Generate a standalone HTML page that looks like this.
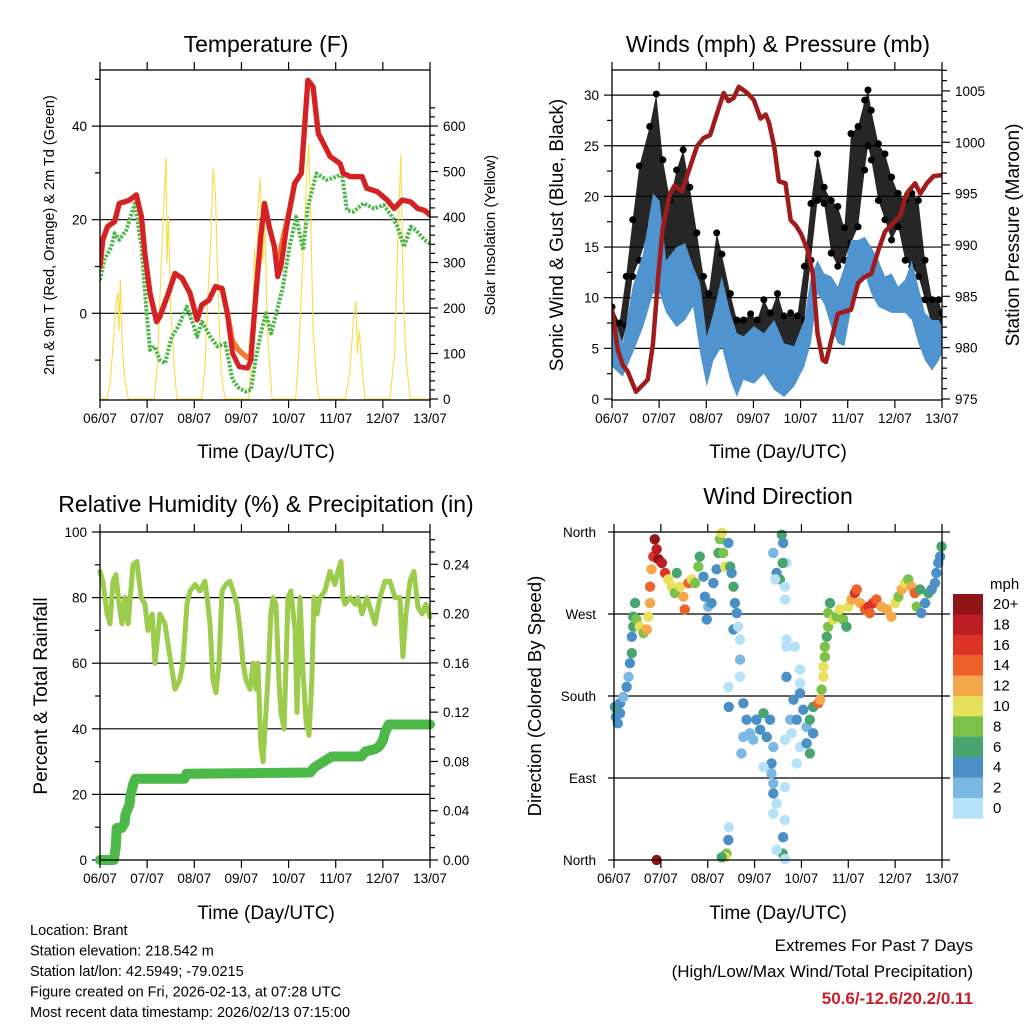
<!DOCTYPE html>
<html><head><meta charset="utf-8"><style>
html,body{margin:0;padding:0;background:#fff;}
svg{display:block;font-family:"Liberation Sans",Arial,sans-serif;}
</style></head><body>
<svg id="fig" width="1024" height="1024" viewBox="0 0 1024 1024">
<rect x="0" y="0" width="1024" height="1024" fill="#fff"/>
</svg>
<script>
// ---------------- DATA ----------------
const tempTime=[0,.06,.16,.31,.41,.52,.63,.77,.88,.95,1.06,1.2,1.27,1.45,1.59,1.74,1.91,2.06,2.16,2.31,2.45,2.59,2.7,2.81,2.95,3.13,3.2,3.31,3.41,3.49,3.59,3.7,3.77,3.84,3.95,4.02,4.13,4.27,4.41,4.52,4.63,4.74,4.88,5.09,5.16,5.31,5.56,5.66,5.88,6.09,6.24,6.41,6.59,6.74,6.88,7];
const temp2m=[10,15.7,18.5,19.6,23.5,23.8,24.2,25.3,20.6,12.8,4.3,-1.8,-0.7,4.3,8.5,7.5,4.3,-1.4,1.8,2.8,5.7,5.3,0,-8.5,-11.4,-11.7,-10,4.3,16.4,23.5,18.5,14.2,7.8,10,17.8,22,27.8,29.9,49.8,48.4,38.4,36.3,33.5,32,29.9,29.2,29.2,26.7,26,24.2,22.4,24.2,23.8,22.4,22,21];
const temp9m=[10,15.7,18.5,19.6,23.5,23.8,24.2,25.3,20.6,12.8,4.3,-1.8,-0.7,4.3,8.5,7.5,4.3,-1.4,1.8,2.8,5.7,5.3,0,-6,-8,-9.5,-9,4.3,16.4,23.5,18.5,14.2,9,14,19,22,27.8,29.9,49.8,48.4,38.4,36.3,33.5,32,29.9,29.2,29.2,26.7,26,24.2,22.4,24.2,23.8,22.4,22,21];
const dewTime=[0,.09,.24,.31,.41,.56,.74,.88,.99,1.06,1.16,1.27,1.38,1.52,1.66,1.84,1.99,2.06,2.16,2.34,2.49,2.66,2.81,2.95,3.09,3.2,3.31,3.41,3.52,3.63,3.74,3.88,4.02,4.16,4.31,4.41,4.59,4.81,5.02,5.13,5.24,5.38,5.59,5.81,6.02,6.2,6.31,6.45,6.59,6.7,6.88,7];
const dewPoint=[7.1,11.4,14.2,17.1,15.7,17.8,23.5,14.2,0,-7.8,-7.1,-10,-10.7,-5,-2.8,1.4,-2.8,-5,-1.8,-5,-7.1,-6.4,-14.2,-16,-16.7,-16.4,-9.3,-4.3,0,-4.3,0,5.7,14.2,20.6,13.5,22.8,29.9,28.5,29.2,29.9,22,21.7,23.5,22.4,23.1,20.6,18.5,14.2,18.5,17.8,15.7,14.9];
const solarTime=[0,.15,.22,.3,.35,.38,.4,.43,.47,.52,.6,1.15,1.22,1.3,1.35,1.4,1.42,1.45,1.5,1.57,1.63,2.15,2.22,2.3,2.35,2.4,2.45,2.5,2.57,2.65,3.15,3.22,3.28,3.32,3.35,3.4,3.45,3.5,3.55,3.65,4.15,4.22,4.3,4.38,4.43,4.47,4.52,4.6,4.65,5.2,5.3,5.38,5.43,5.46,5.5,5.55,5.62,6.15,6.25,6.32,6.38,6.42,6.45,6.5,6.58,7];
const solarWm2=[0,0,40,150,220,233,150,262,120,50,0,0,80,300,420,531,300,400,200,80,0,0,60,250,350,505,450,250,60,0,0,100,330,200,420,485,300,380,150,0,0,100,300,480,560,400,150,30,0,0,60,180,216,100,150,80,0,0,100,350,537,300,180,80,0,0];
const windTime=[0,.23,.44,.66,.87,1.01,1.15,1.37,1.55,1.72,1.87,2.01,2.15,2.33,2.51,2.65,2.79,3.01,3.22,3.44,3.65,3.86,4.08,4.22,4.36,4.5,4.65,4.79,4.93,5.07,5.22,5.36,5.5,5.65,5.79,5.93,6.07,6.22,6.36,6.5,6.64,6.79,6.93,7];
const windLow=[3.2,2.2,4.5,7.1,10.4,10.4,8.5,7.1,7.8,9.1,4.5,1.2,3.8,5.2,1.9,0.2,1.9,1.5,2.5,0.9,0.2,1.2,3.2,5.5,10.4,9.4,7.1,5.5,5.2,8.8,11.1,12.4,10.4,9.1,8.8,8.5,8.5,8.5,7.8,5.5,3.8,2.8,3.8,4.5];
const windHigh=[8.5,5.5,11.1,14.4,20.3,19.6,13.7,15,15.4,13.1,11.4,6.2,8.5,12.1,8.5,6.5,6.2,7.2,6.5,7.8,5.5,5.2,7.8,12.1,13.7,12.4,12.1,11.1,13.1,15.7,15.7,16,15,13.7,12.1,12.4,11.1,11.8,13.7,11.1,8.5,7.8,7.8,7.2];
const gustTime=[0,.16,.3,.44,.58,.8,.94,1.08,1.23,1.37,1.51,1.65,1.8,1.94,2.05,2.22,2.33,2.51,2.65,2.79,2.94,3.08,3.22,3.36,3.51,3.65,3.79,3.93,4.08,4.22,4.36,4.5,4.65,4.79,4.93,5.07,5.22,5.36,5.43,5.5,5.65,5.79,5.93,6.07,6.22,6.36,6.5,6.64,6.79,6.93,7];
const gustLow=[3.8,4.5,7.2,12.1,13.7,17,19.6,13.7,13.7,14.4,15,13.1,10.4,6.2,4.5,7.8,8.8,5.5,4.5,4.5,4.8,5.5,4.5,4.5,2.5,2.8,3.8,3.8,7.8,13.7,19.6,19.3,14.4,13.1,13.7,15.4,17,22.6,25,23.6,19.6,17.7,15.7,17,13.7,13.1,12.1,9.8,7.2,6.2,5.5];
const gustHigh=[9.1,7.5,12.1,17.7,23,26.9,30.1,23.6,19.6,22.6,24.6,20.9,16.4,12.1,10.4,16.4,14.3,10.4,7.8,7.8,8.4,7.8,9.8,8.5,10.4,8.2,8.5,8.2,13.1,19.3,24.2,20.9,19.6,19,16.9,26.2,26.9,29.5,30.5,28.5,25.2,24.2,21.9,20.3,19.6,20.3,19.6,13.7,9.8,9.8,8.5];
const presTime=[0,.12,.23,.33,.51,.66,.76,.87,.98,1.08,1.23,1.33,1.48,1.62,1.8,1.94,2.08,2.22,2.37,2.47,2.58,2.69,2.87,3.01,3.15,3.26,3.33,3.44,3.54,3.68,3.79,3.9,4.01,4.15,4.26,4.36,4.47,4.54,4.65,4.79,4.93,5.07,5.22,5.36,5.5,5.65,5.79,6.0,6.11,6.25,6.43,6.54,6.68,6.82,7];
const pressure=[983.7,979.8,978.3,977.7,975.7,976.4,976.9,980.4,986.9,991.8,995,995.8,995.2,997.1,999.6,1000.4,1000.7,1002.7,1004.8,1004,1004.3,1005.4,1004.8,1004.1,1002.3,1002.7,1001.9,999.6,996.2,996,992.4,991.9,991.1,989.5,987.2,981.4,978.8,978.6,980.7,983.3,983.5,983.7,986.3,986.9,987.2,989.5,991.3,992.3,992.8,995,996,995,996,996.7,996.8];
const rhTime=[0,1.5,3.6,5.1,6.6,8.1,9.7,11.2,12.7,14.3,16.8,18.8,20.9,22.9,24.4,26.5,28,30.5,33.1,35.6,38.2,40.7,42.2,44.3,45.8,48.4,50.9,53.4,54.5,56,57.5,59,60.6,62.1,64.1,66.2,67.7,69.7,71.3,72.8,74.3,76.4,77.9,79.4,80.4,81.9,83,84,85.5,87,88.1,89.6,91.1,92.1,93.7,95.7,97.2,99.3,100.3,101.8,103.3,104.9,106.4,107.9,108.9,110.5,112,114.5,117.1,119.6,121.1,122.7,123.7,124.7,127.3,129.8,131.3,133.4,135.9,138.4,140,142.5,145.1,147.6,150.2,152.7,154.2,155.8,157.8,159.8,161.9,163.9,165.9,168];
const rhValue=[88,85,75,72,85,87,78,72,80,72,90,91,80,78,70,75,60,75,72,62,52,55,60,78,82,84,82,85,80,72,55,51,60,82,84,85,82,78,70,60,55,52,60,52,60,35,30,40,55,75,80,78,55,45,40,80,82,70,45,80,58,42,38,55,80,75,80,82,88,84,88,91,80,78,80,78,80,75,80,75,72,80,85,85,80,80,62,75,85,88,77,75,78,74];
const rainTime=[0,7,8,8.5,11,12.5,13,15,15.5,17,18,43,44,107,109,112,115,118,133,135,140,142,144,145,147,168];
const rainTotal=[0,0,.01,.026,.026,.03,.037,.045,.052,.062,.066,.066,.07,.071,.075,.078,.081,.084,.084,.088,.09,.092,.097,.103,.11,.11];
const wdTime=[.02,.06,.04,.08,.13,.13,.2,.27,.31,.34,.38,.38,.41,.41,.45,.48,.55,.63,.7,.73,.77,.77,.8,.84,.87,.91,.95,1.02,1.09,1.16,1.23,1.3,1.34,1.41,1.48,1.51,1.59,1.66,1.73,1.8,1.83,1.91,1.94,1.98,2.01,2.08,2.12,2.19,2.23,2.26,2.3,2.33,2.37,2.44,2.48,2.51,2.55,2.58,2.62,2.55,2.65,2.69,2.69,2.69,2.44,2.45,2.4,2.37,2.44,2.45,2.3,.91,2.76,2.83,2.76,2.9,3.04,3.12,3.19,3.26,3.33,3.4,2.97,2.72,3.4,3.47,3.54,3.58,3.61,3.65,3.68,3.6,3.44,3.65,3.68,3.68,3.86,3.68,3.97,3.97,3.36,3.36,3.4,3.4,3.47,3.4,3.65,3.61,3.6,3.65,3.47,3.19,3.65,3.9,3.65,3.83,3.97,3.76,3.9,4.04,4.11,4.18,4.25,3.79,3.97,4.11,4.18,4.25,4.36,4.4,4.43,4.47,4.47,4.5,4.5,4.54,4.57,4.57,4.61,4.68,4.75,4.82,4.89,4.96,5.0,5.07,5.14,5.18,5.25,5.36,5.43,5.46,5.53,5.6,5.71,5.82,5.92,6.0,6.07,6.14,6.21,6.28,6.35,6.42,6.46,6.53,6.56,6.64,6.71,6.78,6.85,6.88,6.92,6.96,6.99];
const wdDir=[168,165,157,150,161,172,179,190,201,216,227,245,256,267,282,264,256,249,253,267,282,300,319,333,352,341,330,326,315,308,300,293,315,300,289,275,304,308,304,322,333,311,289,264,278,282,304,319,337,352,359,337,322,348,322,315,300,282,271,253,256,242,220,201,190,168,7,3,22,36,3,0,172,154,135,139,154,143,161,135,154,124,132,117,337,315,308,357,348,300,326,326,308,286,242,234,234,201,209,194,106,95,84,73,62,51,44,25,7,1,11,102,132,106,80,176,183,154,154,165,146,154,139,139,124,128,117,168,172,176,187,201,212,223,234,245,256,271,282,264,267,275,264,256,278,286,293,297,282,275,278,271,282,286,278,275,267,282,289,297,304,308,300,293,278,297,271,282,293,297,304,315,326,333,344];
const wdSpeed=[4,6,4,4,4,4,3,4,2,4,6,4,6,6,6,8,10,8,12,10,12,14,12,16,20,18,20,18,16,10,10,8,6,10,12,14,14,10,8,8,6,4,4,4,2,4,4,4,6,8,10,8,10,4,6,4,6,4,4,4,0,0,2,0,0,4,8,10,4,0,6,20,4,4,2,2,4,4,6,4,4,2,2,2,2,4,6,6,4,0,0,6,0,0,0,0,0,4,0,0,4,2,2,4,0,0,0,4,6,0,0,0,0,0,0,4,4,2,4,4,2,6,4,0,0,4,6,6,14,12,8,10,10,8,8,6,8,8,6,10,8,10,8,6,10,12,16,14,12,14,16,14,16,14,12,12,12,10,8,12,10,8,12,14,8,6,4,4,6,4,4,4,4,4,6];
const dayLabels=["06/07","07/07","08/07","09/07","10/07","11/07","12/07","13/07"];
const speedBins=["20+","18","16","14","12","10","8","6","4","2","0"];
const speedColors=["#8f1519","#bb1d23","#dc3228","#ef612a","#f5a84a","#e6e05a","#7cc24a","#48a56f","#4a8fc6","#7ab8e3","#b5e2f8"];

// ---------------- HELPERS ----------------
const NS="http://www.w3.org/2000/svg";
const svg=document.getElementById("fig");
function mk(parent,tag,attrs,name){
  const el=document.createElementNS(NS,tag);
  for(const k in attrs) el.setAttribute(k,attrs[k]);
  
  
  parent.appendChild(el);
  return el;
}
function txt(parent,x,y,s,size,anchor,name,rot,extra){
  const a={x:x,y:y,"font-size":size,"text-anchor":anchor||"middle",fill:"#000"};
  if(rot) a.transform="rotate("+rot+" "+x+" "+y+")";
  if(extra) for(const k in extra) a[k]=extra[k];
  const t=mk(parent,"text",a,name);
  t.textContent=s;
  return t;
}
function ln(p,x1,y1,x2,y2,name,w){return mk(p,"line",{x1:x1,y1:y1,x2:x2,y2:y2,stroke:"#000","stroke-width":w||1.2},name);}
function poly(p,xs,ys,xf,yf,stroke,w,name,extra){
  let d="";
  for(let i=0;i<xs.length;i++) d+=(i?" ":"")+xf(xs[i]).toFixed(1)+","+yf(ys[i]).toFixed(1);
  const a={points:d,fill:"none",stroke:stroke,"stroke-width":w,"stroke-linejoin":"round","stroke-linecap":"round"};
  if(extra) for(const k in extra) a[k]=extra[k];
  return mk(p,"polyline",a,name);
}
function band(p,xs,lo,hi,xf,yf,fill,name,op){
  let d="";
  for(let i=0;i<xs.length;i++) d+=xf(xs[i]).toFixed(1)+","+yf(hi[i]).toFixed(1)+" ";
  for(let i=xs.length-1;i>=0;i--) d+=xf(xs[i]).toFixed(1)+","+yf(lo[i]).toFixed(1)+" ";
  return mk(p,"polygon",{points:d,fill:fill,"fill-opacity":op||1},name);
}
function xAxis(g,x0,x1,y0,y1,tf){
  for(let d=0;d<=7;d++){
    const x=tf(d);
    ln(g,x,y1,x,y1+8,"x-tick");
    ln(g,x,y0,x,y0-8,"x-tick-top");
    txt(g,x,y1+23,dayLabels[d],13.5,"middle","x-tick-label");
  }
}

// ---------------- PANEL 1: TEMPERATURE ----------------
(function(){
  const g=mk(svg,"g",{},"temperature-panel");
  const X0=100,X1=430,Y0=70,Y1=400;
  const tx=d=>X0+d*(X1-X0)/7;
  const ty=v=>313.3-v*4.68;
  const ys=w=>399-w*0.455;
  const clip=mk(g,"clipPath",{id:"c1"},"temp-clip");
  mk(clip,"rect",{x:X0,y:Y0,width:X1-X0,height:Y1-Y0},"temp-clip-rect");
  [0,20,40].forEach(v=>{ln(g,X0,ty(v),X1,ty(v),"temp-gridline",1.2);ln(g,X0-8,ty(v),X0,ty(v),"temp-y-tick");txt(g,X0-13,ty(v)+5,String(v),13.5,"end","temp-y-label");});
  [-10,10,30,50].forEach(v=>ln(g,X0-5,ty(v),X0,ty(v),"temp-y-minor-tick"));
  for(let w=0;w<=640;w+=20){const y=ys(w);if(y<Y0)break;ln(g,X1,y,X1+(w%100==0?8:5),y,"solar-y-tick");if(w%100==0)txt(g,X1+13,y+5,String(w),13.5,"start","solar-y-label");}
  const pg=mk(g,"g",{"clip-path":"url(#c1)"},"temp-series");
  poly(pg,solarTime,solarWm2,tx,ys,"#f8dc48",1.1,"solar-insolation-line");
  poly(pg,dewTime,dewPoint,tx,ty,"#4cb648",4,"dewpoint-2m-line",{"stroke-dasharray":"2.5 1.5","stroke-linecap":"butt"});
  poly(pg,tempTime,temp9m,tx,ty,"#f27a2d",5.5,"temp-9m-line");
  poly(pg,tempTime,temp2m,tx,ty,"#d42027",5,"temp-2m-line");
  mk(g,"rect",{x:X0,y:Y0,width:X1-X0,height:Y1-Y0,fill:"none",stroke:"#000","stroke-width":1.3},"temp-frame");
  xAxis(g,X0,X1,Y0,Y1,tx);
  txt(g,266,52,"Temperature (F)",23,"middle","temp-title");
  txt(g,266,458,"Time (Day/UTC)",19,"middle","temp-x-title");
  txt(g,54,235,"2m & 9m T (Red, Orange) & 2m Td (Green)",14.5,"middle","temp-y-title",-90);
  txt(g,495,235,"Solar Insolation (Yellow)",15,"middle","solar-y-title",-90);
})();

// ---------------- PANEL 2: WINDS ----------------
(function(){
  const g=mk(svg,"g",{},"winds-panel");
  const X0=612,X1=942,Y0=70,Y1=400;
  const wx=d=>X0+d*(X1-X0)/7;
  const wy=m=>399-m*10.13;
  const wp=p=>399-(p-975)*10.27;
  const clip=mk(g,"clipPath",{id:"c2"},"winds-clip");
  mk(clip,"rect",{x:X0,y:Y0,width:X1-X0,height:Y1-Y0},"winds-clip-rect");
  for(let v=0;v<=30;v+=2.5){const y=wy(v);if(v%5==0){if(v>0)ln(g,X0,y,X1,y,"wind-gridline",1.2);ln(g,X0-8,y,X0,y,"wind-y-tick");txt(g,X0-13,y+5,String(v),13.5,"end","wind-y-label");}else ln(g,X0-5,y,X0,y,"wind-y-minor-tick");}
  for(let p=975;p<=1007;p++){const y=wp(p);if(y<Y0)break;ln(g,X1,y,X1+(p%5==0?8:5),y,"pressure-y-tick");if(p%5==0)txt(g,X1+13,y+5,String(p),13.5,"start","pressure-y-label");}
  const pg=mk(g,"g",{"clip-path":"url(#c2)"},"wind-series");
  band(pg,gustTime,gustLow,gustHigh,wx,wy,"#000","gust-band",0.85);
  for(let i=0;i<gustTime.length;i++){
    mk(pg,"circle",{cx:wx(gustTime[i]),cy:wy(gustHigh[i]),r:3.5,fill:"#000"},"gust-point");
    mk(pg,"circle",{cx:wx(gustTime[i]),cy:wy(gustLow[i]),r:3.5,fill:"#000"},"gust-point");
  }
  band(pg,windTime,windLow,windHigh,wx,wy,"#4f94cf","wind-speed-band");
  poly(pg,presTime,pressure,wx,wp,"#a01c1c",4.5,"pressure-line");
  mk(g,"rect",{x:X0,y:Y0,width:X1-X0,height:Y1-Y0,fill:"none",stroke:"#000","stroke-width":1.3},"winds-frame");
  xAxis(g,X0,X1,Y0,Y1,wx);
  txt(g,778,52,"Winds (mph) & Pressure (mb)",23,"middle","winds-title");
  txt(g,778,458,"Time (Day/UTC)",19,"middle","winds-x-title");
  txt(g,563,235,"Sonic Wind & Gust (Blue, Black)",19,"middle","wind-y-title",-90);
  txt(g,1019,235,"Station Pressure (Maroon)",19,"middle","pressure-y-title",-90);
})();

// ---------------- PANEL 3: RH & PRECIP ----------------
(function(){
  const g=mk(svg,"g",{},"humidity-panel");
  const X0=100,X1=430,Y0=532,Y1=860;
  const rx=h=>X0+h*(X1-X0)/168;
  const ry=v=>860-v*3.28;
  const rr=i=>860-i*1232;
  const clip=mk(g,"clipPath",{id:"c3"},"rh-clip");
  mk(clip,"rect",{x:X0-6,y:Y0,width:X1-X0+12,height:Y1-Y0+6},"rh-clip-rect");
  for(let v=0;v<=100;v+=10){const y=ry(v);if(v%20==0){if(v>0&&v<100)ln(g,X0,y,X1,y,"rh-gridline",1.2);ln(g,X0-8,y,X0,y,"rh-y-tick");txt(g,X0-13,y+5,String(v),13.5,"end","rh-y-label");}else ln(g,X0-5,y,X0,y,"rh-y-minor-tick");}
  for(let k=0;k<=26;k++){const y=rr(k/100);ln(g,X1,y,X1+(k%4==0?8:5),y,"rain-y-tick");if(k%4==0)txt(g,X1+13,y+5,(k/100).toFixed(2),13.5,"start","rain-y-label");}
  const pg=mk(g,"g",{"clip-path":"url(#c3)"},"rh-series");
  poly(pg,rhTime,rhValue,rx,ry,"#9ccc4c",5,"relative-humidity-line");
  poly(pg,rainTime,rainTotal,rx,rr,"#4cb848",10,"total-rainfall-line");
  mk(g,"rect",{x:X0,y:Y0,width:X1-X0,height:Y1-Y0,fill:"none",stroke:"#000","stroke-width":1.3},"rh-frame");
  xAxis(g,X0,X1,Y0,Y1,d=>X0+d*(X1-X0)/7);
  txt(g,266,512,"Relative Humidity (%) & Precipitation (in)",23,"middle","rh-title");
  txt(g,266,919,"Time (Day/UTC)",19,"middle","rh-x-title");
  txt(g,47,696,"Percent & Total Rainfall",19,"middle","rh-y-title",-90);
})();

// ---------------- PANEL 4: WIND DIRECTION ----------------
(function(){
  const g=mk(svg,"g",{},"wind-direction-panel");
  const X0=614,X1=942,Y0=532,Y1=860;
  const dx=d=>X0+d*(X1-X0)/7;
  const dy=a=>860-a*(Y1-Y0)/360;
  const names=["North","East","South","West","North"];
  for(let k=0;k<=4;k++){const y=dy(k*90);if(k>0&&k<4)ln(g,X0-6,y,X1+8,y,"direction-gridline",1.2);else{ln(g,X0-6,y,X0,y,"direction-tick");ln(g,X1,y,X1+8,y,"direction-tick");}txt(g,X0-18,y+5,names[k],13.5,"end","direction-label");}
  const clip=mk(g,"clipPath",{id:"c4"},"wd-clip");
  mk(clip,"rect",{x:X0-6,y:Y0-6,width:X1-X0+12,height:Y1-Y0+12},"wd-clip-rect");
  const pg=mk(g,"g",{"clip-path":"url(#c4)"},"wd-series");
  for(let i=0;i<wdTime.length;i++){
    let bin=10-Math.floor(Math.min(wdSpeed[i],20)/2);
    const c=document.createElementNS(NS,"circle");
    c.setAttribute("cx",dx(wdTime[i]));c.setAttribute("cy",dy(wdDir[i]));c.setAttribute("r",5.2);c.setAttribute("fill",speedColors[bin]);
    
    
    pg.appendChild(c);
  }
  mk(g,"rect",{x:X0,y:Y0,width:X1-X0,height:Y1-Y0,fill:"none",stroke:"#000","stroke-width":1.3},"wd-frame");
  xAxis(g,X0,X1,Y0,Y1,dx);
  txt(g,778,504,"Wind Direction",23,"middle","wd-title");
  txt(g,778,919,"Time (Day/UTC)",19,"middle","wd-x-title");
  txt(g,541,696,"Direction (Colored By Speed)",18.5,"middle","wd-y-title",-90);
  const cb=mk(g,"g",{},"speed-colorbar");
  txt(cb,990,589,"mph",15,"start","colorbar-unit");
  for(let k=0;k<11;k++){
    mk(cb,"rect",{x:953,y:594+k*20.4,width:30,height:20.6,fill:speedColors[k]},"colorbar-box");
    txt(cb,993,604+k*20.4+5,speedBins[k],15,"start","colorbar-label");
  }
})();

// ---------------- FOOTER ----------------
(function(){
  const g=mk(svg,"g",{},"station-info");
  const lines=["Location: Brant","Station elevation: 218.542 m","Station lat/lon: 42.5949; -79.0215","Figure created on Fri, 2026-02-13, at 07:28 UTC","Most recent data timestamp: 2026/02/13 07:15:00"];
  lines.forEach((s,i)=>txt(g,30,935+i*20.5,s,14.5,"start","station-info-line"));
  const e=mk(svg,"g",{},"extremes-summary");
  txt(e,973,951,"Extremes For Past 7 Days",17,"end","extremes-title");
  txt(e,973,977,"(High/Low/Max Wind/Total Precipitation)",17,"end","extremes-subtitle");
  txt(e,973,1004,"50.6/-12.6/20.2/0.11",17,"end","extremes-values",null,{fill:"#c8202a","font-weight":"bold"});
})();
</script>
</body></html>
